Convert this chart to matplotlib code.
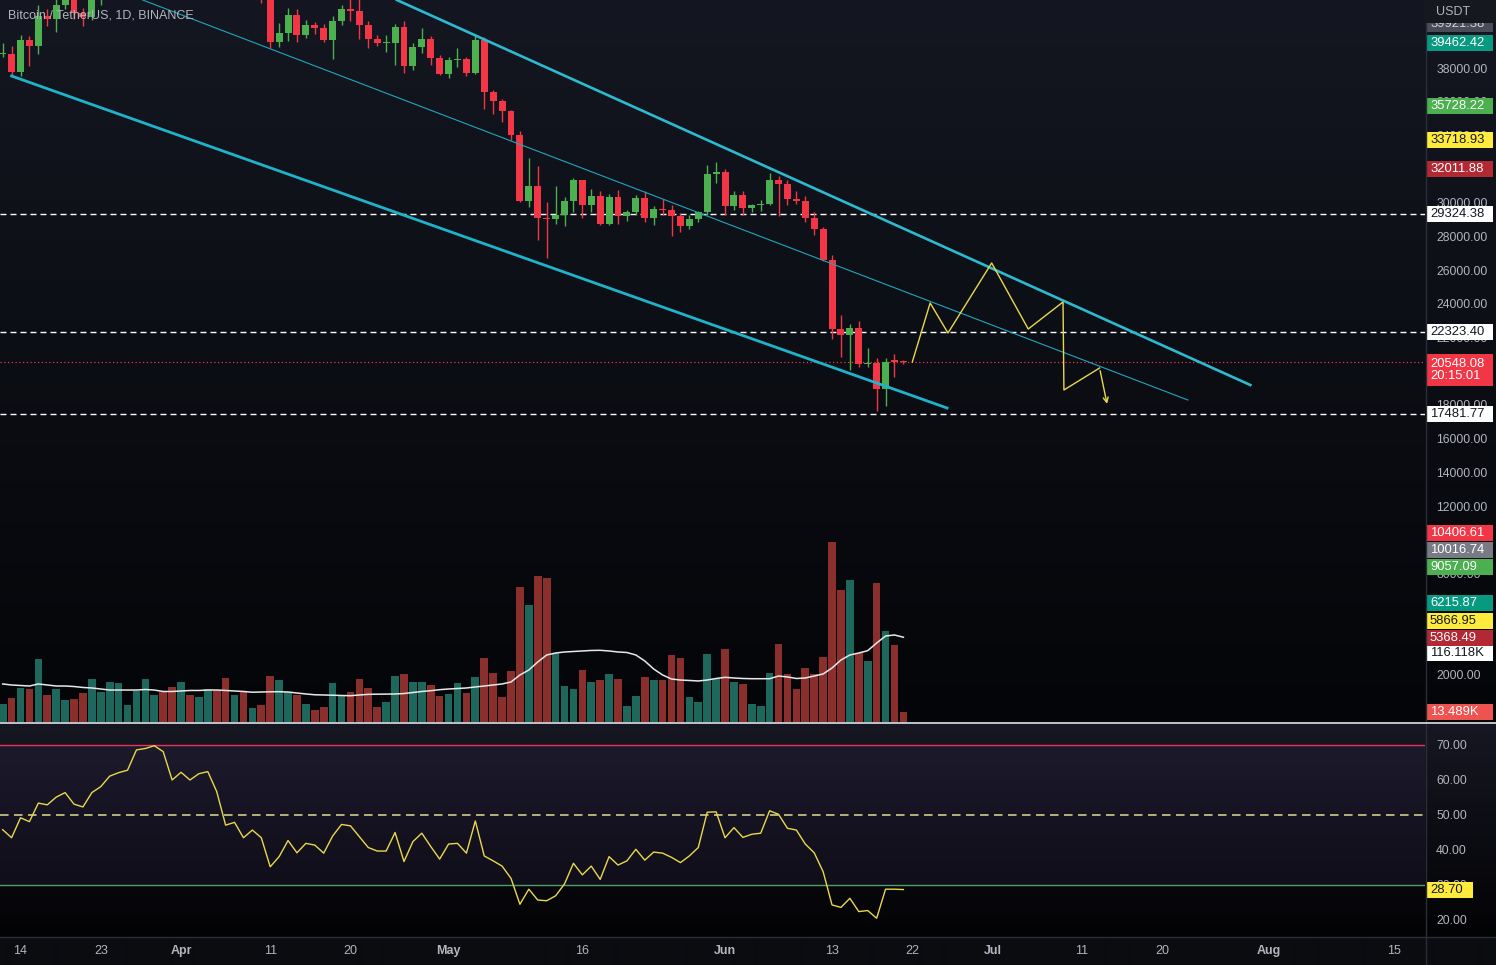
import numpy as np
import pandas as pd
import matplotlib
matplotlib.use("Agg")
import matplotlib.pyplot as plt
import matplotlib.transforms as mtransforms
from matplotlib.patches import Rectangle
from matplotlib.lines import Line2D

plt.rcParams['font.family'] = ['Liberation Sans', 'DejaVu Sans']

# ---- data (BTC/USDT daily, Mar 12 - Jun 21 2022) ----
dates = pd.date_range('2022-03-12', '2022-06-21', freq='D')

opens = [38807, 38809, 37777, 39671, 39281, 41114, 40917, 41757, 42201, 41262, 41002, 42364, 42882, 43991, 44313, 44511, 46827, 47122, 47434, 47067,
         45510, 46283, 45811, 46407, 46580, 45497, 43170, 43444, 42252, 42753, 42158, 39530, 40074, 41147, 39942, 40552, 40378, 39678, 40801, 41494,
         41374, 40527, 39740, 39486, 39469, 40458, 38112, 39235, 39742, 38596,
         37630, 38468, 38525, 37728, 39690, 36552, 36013, 35472, 34039, 30076, 31017, 29103, 29029, 29287, 30086, 31328, 29875, 30424, 28715, 30319,
         29201, 29445, 30293, 29109, 29655, 29542, 29201, 28629, 29031, 29468, 31734,
         31801, 29805, 30452, 29700, 29865, 29919, 31373, 31125, 30204, 30109, 29091, 28424, 26574, 22488, 22136, 22583, 20401, 20468, 18970, 20574, 20573]
highs = [39486, 39310, 39947, 39887, 41718, 41478, 42325, 42400, 42296, 41544, 43361, 43025, 44220, 45094, 44792, 46999, 48189, 48096, 47700, 47600,
         46720, 47213, 47444, 46890, 47200, 45507, 43900, 43970, 42800, 43427, 42414, 40699, 41561, 41500, 40870, 40709, 40595, 41116, 41760, 42199,
         42976, 40812, 39980, 39940, 40616, 40797, 39474, 40372, 39925, 38795,
         38675, 39167, 38651, 39980, 39845, 36675, 36146, 35503, 34243, 32658, 32162, 30032, 30976, 30343, 31460, 31328, 30788, 30700, 30545, 30777,
         29600, 30487, 30670, 29832, 30223, 29886, 29397, 29250, 29530, 32222, 32399,
         31982, 30690, 30700, 29955, 30189, 31765, 31589, 31327, 30700, 30382, 29440, 28544, 26895, 23362, 22800, 22977, 21365, 20792, 20815, 20998, 20650]
lows = [38660, 37578, 37555, 38098, 38828, 40500, 40135, 41499, 40911, 40467, 40875, 41751, 42560, 43579, 44071, 44422, 46663, 46950, 46445, 45200,
        44200, 45620, 45530, 45118, 45353, 43121, 42727, 42107, 42125, 41868, 39200, 39254, 39588, 39551, 39766, 39991, 39546, 38536, 40571, 40820,
        39751, 39177, 39285, 38929, 38200, 37702, 37881, 38881, 38176, 37578,
        37386, 38052, 37517, 37670, 35571, 35258, 34785, 33713, 30033, 29730, 27785, 26700, 28751, 28630, 29480, 29087, 29450, 28654, 28693, 28730,
        28947, 29255, 28866, 28669, 29294, 28019, 28282, 28450, 28839, 29299, 31200,
        29301, 29594, 29282, 29454, 29530, 29890, 29218, 29843, 29944, 28850, 28100, 26560, 21925, 20846, 20071, 20232, 20246, 17622, 17960, 19637, 20450]
closes = [38809, 37777, 39671, 39281, 41114, 40917, 41757, 42201, 41262, 41002, 42364, 42882, 43991, 44313, 44511, 46827, 47122, 47434, 47067, 45510,
          46283, 45811, 46407, 46580, 45497, 43170, 43444, 42252, 42753, 42158, 39530, 40074, 41147, 39942, 40552, 40378, 39678, 40801, 41494, 41374,
          40527, 39740, 39486, 39500, 40458, 38112, 39235, 39742, 38596, 37630,
          38468, 38525, 37728, 39690, 36552, 36013, 35472, 34039, 30076, 31017, 29103, 29029, 29287, 30086, 31328, 29875, 30424, 28715, 30319, 29201,
          29445, 30293, 29109, 29655, 29542, 29201, 28629, 29031, 29468, 31734, 31801,
          29805, 30452, 29700, 29865, 29919, 31373, 31125, 30204, 30109, 29091, 28424, 26574, 22488, 22136, 22583, 20401, 20468, 18970, 20574, 20573, 20548.08]

# volume in thousands of BTC
volume = [24.2, 32.9, 46.2, 44.8, 85.9, 36.6, 45.2, 29.7, 31.1, 39.3, 58.5, 40.7, 55.2, 53.8, 22.9, 42.1, 58.5, 36.6, 41.1, 47.5,
          55.2, 36.6, 33.8, 44.8, 43.4, 59.9, 36.6, 42.1, 18.8, 22.9, 62.6, 57.1, 40.7, 36.6, 24.2, 16.0, 20.1, 53.0, 35.2, 40.7,
          58.5, 46.2, 20.1, 27.0, 62.6, 65.3, 55.2, 55.2, 50.3, 35.2,
          37.9, 53.0, 39.3, 61.2, 87.3, 66.7, 33.8, 69.9, 185.0, 160.3, 200.0, 197.3, 94.5, 49.3, 45.2, 71.2, 54.8, 57.5, 65.8, 58.9,
          21.5, 35.6, 61.7, 57.5, 57.5, 91.8, 87.7, 33.8, 27.0, 93.2, 58.9,
          100.0, 54.8, 52.1, 24.7, 21.9, 67.1, 106.9, 65.8, 45.2, 74.0, 65.8, 89.1, 246.6, 180.8, 194.5, 94.5, 83.6, 190.4, 124.7, 105.5, 13.489]
volume_ma = [52.1, 50.7, 50.0, 49.3, 52.1, 50.7, 49.3, 49.3, 48.6, 47.3, 46.6, 45.2, 43.8, 43.8, 43.8, 43.8, 44.5, 43.8, 41.8, 41.8,
             42.5, 43.2, 43.2, 43.8, 43.8, 43.2, 42.5, 41.8, 40.8, 41.1, 41.4, 41.5, 41.1, 39.7, 38.4, 37.3, 37.0, 36.7, 36.3, 36.0,
             37.0, 37.9, 38.1, 38.2, 38.4, 39.0, 40.4, 41.8, 42.9, 44.3,
             45.2, 45.9, 46.6, 48.0, 49.3, 50.7, 52.1, 54.8, 64.4, 71.2, 82.2, 91.8, 94.5, 95.9, 96.6, 97.3, 98.0, 98.2, 97.3, 95.9,
             95.2, 91.8, 83.6, 72.6, 64.4, 58.9, 57.5, 56.9, 56.2, 57.5, 59.6,
             61.2, 60.3, 59.6, 59.3, 59.3, 59.3, 63.0, 61.7, 59.6, 60.3, 63.0, 65.8, 74.0, 84.9, 91.8, 94.5, 97.7, 108.2, 117.8, 119.2, 116.118]
rsi = [45.8, 43.5, 49.2, 48.1, 53.4, 52.9, 55.1, 56.4, 53.1, 52.3, 56.4, 58.1, 61.1, 62.1, 62.8, 68.6, 69.0, 69.8, 68.1, 60.0,
       62.2, 60.0, 61.8, 62.4, 56.7, 47.1, 47.9, 43.5, 45.7, 43.5, 35.2, 38.1, 42.7, 39.2, 41.9, 41.4, 39.1, 44.0, 47.3, 46.9,
       43.8, 40.7, 39.7, 39.7, 45.0, 36.7, 42.4, 44.8, 41.0, 37.4,
       41.7, 41.9, 39.1, 48.3, 38.3, 36.9, 35.4, 31.9, 24.5, 28.8, 25.7, 25.5, 26.9, 30.3, 36.2, 32.9, 35.4, 31.6, 38.1, 35.7,
       36.9, 40.2, 37.1, 39.4, 39.1, 37.9, 36.4, 38.3, 40.7, 50.8, 50.9,
       43.5, 46.4, 43.6, 44.5, 44.8, 51.2, 50.2, 46.2, 45.7, 41.7, 39.2, 33.8, 24.3, 23.6, 26.2, 22.4, 22.7, 20.5, 28.8, 28.8, 28.70]

# drawings (day offset from Mar 14, price)
upper_line = ([42.2, 137.9], [42037, 19183])
middle_line = ([13.7, 130.9], [42037, 18292])
lower_line = ([-1.0, 103.9], [37525, 17817])
path_days = [100.0, 102.0, 104.0, 108.9, 113.0, 116.9, 117.0, 121.0]
path_prices = [20548, 24050, 22270, 26425, 22507, 24110, 18886, 20192]
arrow_end = (121.9, 17900)
levels = [29324.38, 22323.40, 17481.77]

tick_dates = ['2022-03-14', '2022-03-23', '2022-04-01', '2022-04-11', '2022-04-20', '2022-05-01', '2022-05-16',
              '2022-06-01', '2022-06-13', '2022-06-22', '2022-07-01', '2022-07-11', '2022-07-20', '2022-08-01', '2022-08-15']
tick_labels = ['14', '23', 'Apr', '11', '20', 'May', '16', 'Jun', '13', '22', 'Jul', '11', '20', 'Aug', '15']

# price scale labels; the ones fully covered by value tags are left out
price_ticks = [2000, 8000, 12000, 14000, 16000, 18000, 22000, 24000, 26000, 28000, 30000, 34000, 36000, 38000]

# right-side value tags: (value, text, face, text colour, shift px)
price_tags = [
    (39921.38, '39921.38', '#4a4d57', '#d1d4dc', -12),
    (39462.42, '39462.42', '#089981', 'white', 0),
    (35728.22, '35728.22', '#4CAF50', 'white', 0),
    (33718.93, '33718.93', '#FFEB3B', '#131722', 0),
    (32011.88, '32011.88', '#B22833', 'white', 0),
    (29324.38, '29324.38', 'white', '#131722', 0),
    (22323.40, '22323.40', 'white', '#131722', 0),
    (17481.77, '17481.77', 'white', '#131722', 0),
    (10406.61, '10406.61', '#F23645', 'white', 0),
    (10016.74, '10016.74', '#787B86', 'white', 11),
    (9057.09, '9057.09', '#4CAF50', 'white', 11),
    (6215.87, '6215.87', '#089981', 'white', 0),
    (5866.95, '5866.95', '#FFEB3B', '#131722', 12),
    (5368.49, '5368.49', '#B22833', 'white', 20),
]

W, H = 1496, 965
PLOT_W = 1425
fig = plt.figure(figsize=(W / 100, H / 100), dpi=100)
fig.patch.set_facecolor('#0b0c10')

# background gradients
def grad(n, c0, c1):
    t = np.linspace(0, 1, n)[:, None]
    return (np.array(c0)[None, :] * (1 - t) + np.array(c1)[None, :] * t) / 255.0

bg = np.vstack([grad(723, (20, 23, 33), (4, 5, 8)),
                grad(214, (22, 23, 34), (3, 3, 5)),
                grad(28, (11, 12, 16), (11, 12, 16))])
ax_bg = fig.add_axes([0, 0, 1, 1])
ax_bg.imshow(bg[:, None, :], aspect='auto', extent=[0, 1, 0, 1], interpolation='bilinear')
ax_bg.axis('off')

x = (dates - pd.Timestamp('2022-03-14')).days.to_numpy()
o = np.array(opens, float)
c = np.array(closes, float)
up = c >= o
xlim = (-2.30, 157.49)

ax = fig.add_axes([0, (H - 722) / H, PLOT_W / W, 722 / H])
axv = ax.twinx()
ax.set_zorder(2)
axv.set_zorder(1)
for a in (ax, axv):
    a.patch.set_visible(False)
    for s in a.spines.values():
        s.set_visible(False)
ax.set_xlim(*xlim)
ax.set_ylim(-822, 42037)
axv.set_ylim(0, 989)
axv.set_yticks([])
ax.set_xticks([])
ax.yaxis.tick_right()
ax.set_yticks(price_ticks)
ax.set_yticklabels([f'{v:.2f}' for v in price_ticks])
ax.tick_params(axis='y', length=0, pad=8, labelsize=8.8, labelcolor='#B2B5BE')

# volume
vcol = np.where(up, '#1D675C', '#8B2F2D')
axv.bar(x, volume, width=0.86, color=vcol, linewidth=0)
axv.plot(x, volume_ma, color='#E8E8E8', lw=1.1)

# candles
ccol = np.where(up, '#4CAF50', '#F23645')
ax.vlines(x, lows, highs, colors=ccol, lw=1, zorder=3)
body_lo = np.minimum(o, c)
body_h = np.maximum(np.abs(c - o), 70)
ax.bar(x, body_h, bottom=body_lo, width=0.78, color=ccol, linewidth=0, zorder=4)

# channel + levels
ax.plot(*upper_line, color='#2BBBD0', lw=1.9, zorder=5)
ax.plot(*lower_line, color='#1FB3CB', lw=2.0, zorder=5)
ax.plot(*middle_line, color='#1FA6BD', lw=0.8, zorder=5)
for lv in levels:
    ax.axhline(lv, color='white', lw=1.0, ls=(0, (4.3, 2.9)), zorder=2)
ax.axhline(closes[-1], color='#F23645', lw=0.9, ls=(0, (1, 2)), zorder=2)
ax.plot(path_days, path_prices, color='#E9D84C', lw=1.0, zorder=6)
ax.annotate('', xy=arrow_end, xytext=(path_days[-1], path_prices[-1]),
            arrowprops=dict(arrowstyle='->', color='#E9D84C', lw=1.0, mutation_scale=9), zorder=6)

ax.text(8 / PLOT_W, 1 - 16 / 722, 'Bitcoin / TetherUS, 1D, BINANCE', transform=ax.transAxes,
        color='#B2B5BE', fontsize=9, va='center', ha='left', zorder=7)


def tag(a, yval, text, fc, tc, shift=0, h=16, w=67, lines=1):
    tr = mtransforms.blended_transform_factory(a.transAxes, a.transData)
    tr = tr + mtransforms.ScaledTranslation(0, -shift / 100, fig.dpi_scale_trans)
    y0, y1 = a.get_ylim()
    hd = h * lines * (y1 - y0) / a.bbox.height
    bw = a.bbox.width
    a.add_patch(Rectangle((1 + 1 / bw, yval - hd / 2), w / bw, hd, transform=tr, fc=fc, ec='none',
                          clip_on=False, zorder=10))
    a.text(1 + 5 / bw, yval, text, transform=tr, ha='left', va='center', color=tc, fontsize=9.4,
           clip_on=False, zorder=11, linespacing=1.1)


for v, t, fc, tc, sh in price_tags:
    tag(ax, v, t, fc, tc, sh)
tag(ax, closes[-1], f'{closes[-1]:.2f}\n20:15:01', '#F23645', 'white', 8, h=16, lines=2)
tag(axv, volume_ma[-1], f'{volume_ma[-1]:.3f}K', 'white', '#131722', 16)
tag(axv, volume[-1], f'{volume[-1]:.3f}K', '#EF5350', 'white', 0)

# RSI pane
ar = fig.add_axes([0, 28 / H, PLOT_W / W, 213 / H])
ar.patch.set_visible(False)
for s in ar.spines.values():
    s.set_visible(False)
ar.set_xlim(*xlim)
ar.set_ylim(15.14, 76.0)
ar.axhspan(30, 70, color='#7E57C2', alpha=0.08, lw=0)
ar.axhline(70, color='#E8335F', lw=1.0)
ar.axhline(30, color='#4E9F6A', lw=1.0)
ar.axhline(50, color='#B6B27A', lw=1.4, ls=(0, (4.4, 2.8)))
ar.plot(x, rsi, color='#E9D84C', lw=1.0)
ar.yaxis.tick_right()
ar.set_yticks(np.arange(20, 71, 10))
ar.set_yticklabels([f'{v:.2f}' for v in np.arange(20, 71, 10)])
ar.tick_params(axis='y', length=0, pad=8, labelsize=8.8, labelcolor='#B2B5BE')
tick_x = (pd.to_datetime(tick_dates) - pd.Timestamp('2022-03-14')).days.to_numpy()
ar.set_xticks(tick_x)
ar.set_xticklabels(tick_labels)
ar.tick_params(axis='x', length=0, pad=6, labelsize=9, labelcolor='#B2B5BE')
for lab, txt in zip(ar.get_xticklabels(), tick_labels):
    if txt.isalpha():
        lab.set_fontweight('bold')
tag(ar, rsi[-1], f'{rsi[-1]:.2f}', '#FFEB3B', '#131722', 0, w=47)

# header, separators
fig.add_artist(Rectangle((1426 / W, 1 - 23 / H), 70 / W, 23 / H, transform=fig.transFigure,
                         fc='#15181f', ec='none', zorder=20))
fig.text(1436 / W, 1 - 12 / H, 'USDT', color='#B2B5BE', fontsize=9, va='center', ha='left', zorder=21)
fig.add_artist(Line2D([1425.5 / W] * 2, [0, 1], transform=fig.transFigure, color='#2A2E39', lw=1, zorder=15))
fig.add_artist(Line2D([0, 1], [1 - 723 / H] * 2, transform=fig.transFigure, color='#E0E3EB', lw=1.2, zorder=15))
fig.add_artist(Line2D([0, 1], [28 / H] * 2, transform=fig.transFigure, color='#2A2E39', lw=1, zorder=15))

fig.savefig('out.png', dpi=100, facecolor=fig.get_facecolor())
